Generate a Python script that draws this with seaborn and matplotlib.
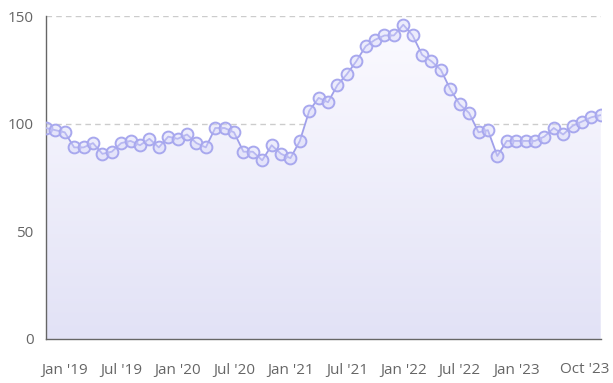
import numpy as np
import pandas as pd
import matplotlib
matplotlib.use("Agg")
import matplotlib.pyplot as plt
from matplotlib.colors import LinearSegmentedColormap
import seaborn as sns

# monthly values, Nov 2018 .. Oct 2023
months = pd.date_range("2018-11-01", "2023-10-01", freq="MS").strftime("%b '%y").tolist()
values = [98, 97, 96, 89, 89, 91, 86, 87, 91, 92,
          90, 93, 89, 94, 93, 95, 91, 89, 98, 98,
          96, 87, 87, 83, 90, 86, 84, 92, 106, 112,
          110, 118, 123, 129, 136, 139, 141, 141, 146, 141,
          132, 129, 125, 116, 109, 105, 96, 97, 85, 92,
          92, 92, 92, 94, 98, 95, 99, 101, 103, 104]
tick_labels = ["Jan '19", "Jul '19", "Jan '20", "Jul '20", "Jan '21",
               "Jul '21", "Jan '22", "Jul '22", "Jan '23", "Oct '23"]
y_ticks = [0, 50, 100, 150]

df = pd.DataFrame({"month": months, "value": values})
df["pos"] = np.arange(len(df))

sns.set_style("white")
plt.rcParams["font.family"] = ["Open Sans", "DejaVu Sans"]

fig = plt.figure(figsize=(6.13, 3.83), dpi=100)
ax = fig.add_axes([0.075, 0.115, 0.905, 0.843])

line_col = "#a0a0ea"

# gradient area under the line
poly = ax.fill_between(df["pos"], df["value"], 0, color="none", lw=0)
cmap = LinearSegmentedColormap.from_list("grad", ["#e2e2f6", "#fbfaff"])
grad = np.linspace(0, 1, 256).reshape(-1, 1)
img = ax.imshow(grad, cmap=cmap, aspect="auto", origin="lower",
                extent=[0, len(df) - 1, 0, max(values)], zorder=1)
img.set_clip_path(poly.get_paths()[0], transform=ax.transData)

sns.lineplot(data=df, x="pos", y="value", ax=ax, color=line_col, lw=1.3,
             marker="o", markersize=8.5, markerfacecolor=(0.84, 0.84, 0.98, 0.45),
             markeredgecolor="#a8a8ee", markeredgewidth=1.4, zorder=3)

ax.set_xlim(0, len(df) - 1)
ax.set_ylim(0, 150)

# dashed horizontal grid
for y in y_ticks[1:]:
    ax.axhline(y, color="#cccccc", lw=1, ls=(0, (4, 3)), zorder=0.5)

tick_pos = [df.index[df["month"] == m][0] for m in tick_labels]
ax.set_xticks(tick_pos)
ax.set_xticklabels(tick_labels[:-1] + [""])
ax.set_yticks(y_ticks)
ax.set_xlabel("")
ax.set_ylabel("")

for s in ["top", "right"]:
    ax.spines[s].set_visible(False)
for s in ["left", "bottom"]:
    ax.spines[s].set_color("#666666")
    ax.spines[s].set_linewidth(1)

ax.tick_params(axis="x", length=7, width=1, color="#666666", pad=10,
               labelsize=11, labelcolor="#666666")
ax.tick_params(axis="y", length=7, width=1, color="#666666", pad=2,
               labelsize=11, labelcolor="#666666")

# last label kept inside the figure edge
ax.annotate(tick_labels[-1], xy=(tick_pos[-1], 0), xycoords=("data", "axes fraction"),
            xytext=(9, -23), textcoords="offset pixels", ha="right", va="top",
            fontsize=11, color="#666666", annotation_clip=False)

fig.savefig("out.png", dpi=100)
